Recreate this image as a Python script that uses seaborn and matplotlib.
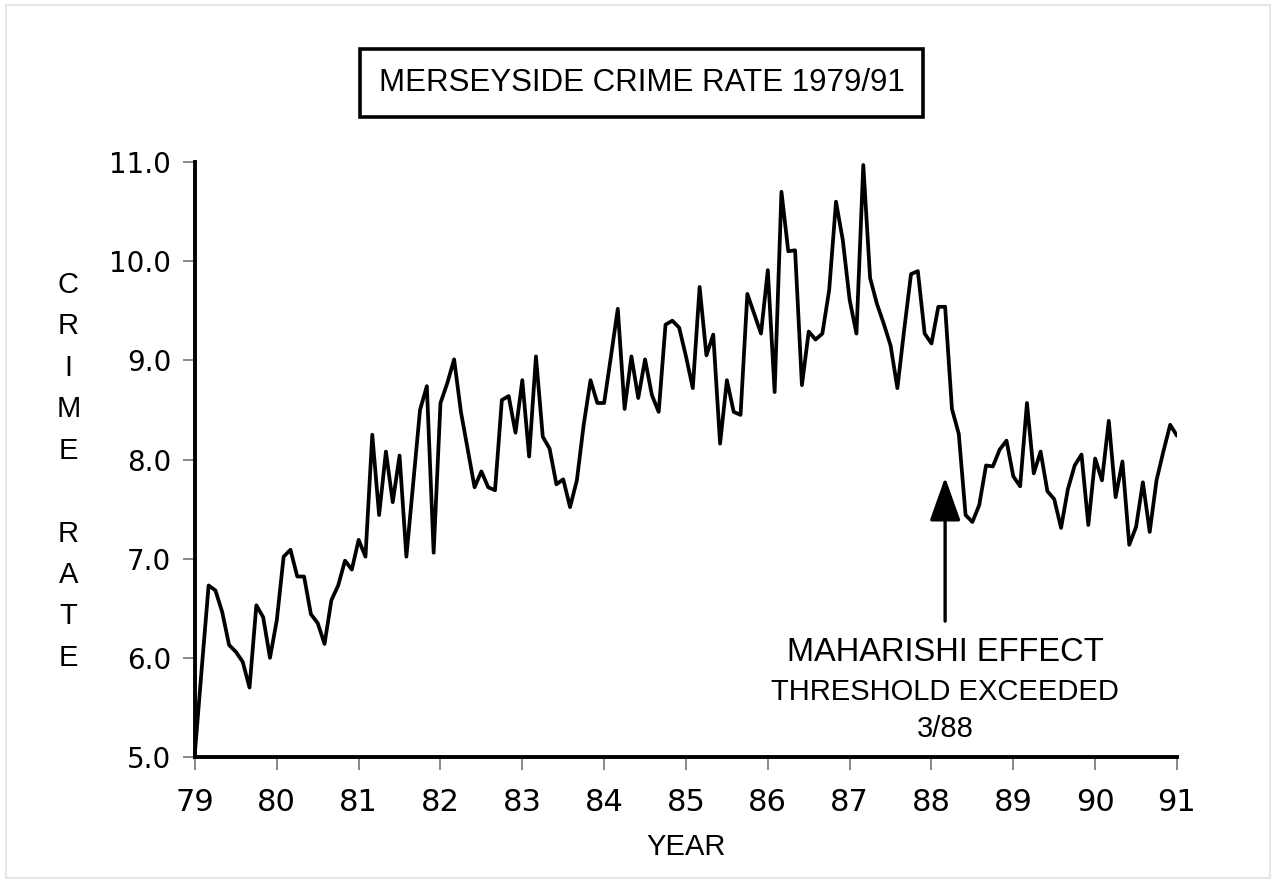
import numpy as np
import pandas as pd
import matplotlib
matplotlib.use("Agg")
import matplotlib.pyplot as plt
from matplotlib.patches import Rectangle
import seaborn as sns

# monthly crime rate, Jan 1979 .. Jan 1991
crime_rate = [
    5.05, 5.90, 6.73, 6.68, 6.46, 6.13, 6.06, 5.96, 5.70, 6.53, 6.41, 6.00,
    6.38, 7.02, 7.09, 6.82, 6.82, 6.44, 6.35, 6.14, 6.58, 6.73, 6.98, 6.89,
    7.19, 7.02, 8.25, 7.44, 8.08, 7.57, 8.04, 7.02, 7.76, 8.50, 8.74, 7.06,
    8.57, 8.77, 9.01, 8.48, 8.10, 7.72, 7.88, 7.72, 7.69, 8.60, 8.64, 8.27,
    8.80, 8.03, 9.04, 8.23, 8.11, 7.75, 7.80, 7.52, 7.79, 8.35, 8.80, 8.57,
    8.57, 9.04, 9.52, 8.51, 9.04, 8.62, 9.01, 8.65, 8.48, 9.36, 9.40, 9.33,
    9.04, 8.72, 9.74, 9.05, 9.26, 8.16, 8.80, 8.48, 8.45, 9.67, 9.47, 9.27,
    9.91, 8.68, 10.70, 10.10, 10.11, 8.75, 9.29, 9.21, 9.27, 9.71, 10.60, 10.21,
    9.61, 9.27, 10.97, 9.83, 9.57, 9.37, 9.15, 8.72, 9.31, 9.87, 9.90, 9.27,
    9.17, 9.54, 9.54, 8.51, 8.26, 7.44, 7.37, 7.54, 7.94, 7.93, 8.10, 8.19,
    7.83, 7.73, 8.57, 7.86, 8.08, 7.68, 7.60, 7.31, 7.70, 7.94, 8.05, 7.34,
    8.01, 7.79, 8.39, 7.62, 7.98, 7.14, 7.32, 7.77, 7.27, 7.79, 8.08, 8.35,
    8.24,
]
start_year = 79
year_ticks = list(range(79, 92))
rate_ticks = [5.0, 6.0, 7.0, 8.0, 9.0, 10.0, 11.0]
ylabel_letters = "C\nR\nI\nM\nE\n\nR\nA\nT\nE"
threshold_date = 88 + 2 / 12   # 3/88
annotation_lines = ["MAHARISHI EFFECT", "THRESHOLD EXCEEDED", "3/88"]

df = pd.DataFrame({
    "year": start_year + np.arange(len(crime_rate)) / 12,
    "rate": crime_rate,
})

sns.set_style("ticks")
plt.rcParams["font.family"] = ["Liberation Sans", "DejaVu Sans"]
plt.rcParams["text.color"] = "black"
plt.rcParams["axes.labelcolor"] = "black"

fig = plt.figure(figsize=(12.76, 8.83), dpi=100)
ax = fig.add_axes([0.1528, 0.1427, 0.7696, 0.6738])

sns.lineplot(data=df, x="year", y="rate", color="black", lw=2.7, ax=ax)

ax.set_xlim(79, 91)
ax.set_ylim(5, 11)
ax.set_xticks(year_ticks)
ax.set_xticklabels([str(y) for y in year_ticks], fontsize=22, family="DejaVu Sans")
ax.set_yticks(rate_ticks)
ax.set_yticklabels([f"{v:.1f}" for v in rate_ticks], fontsize=20, family="DejaVu Sans")
ax.tick_params(axis="both", direction="out", length=9, width=1.3,
               color="#808080", labelcolor="black", bottom=True, left=True)
ax.tick_params(axis="x", pad=13)
ax.tick_params(axis="y", pad=8)

sns.despine(ax=ax)
for side in ["left", "bottom"]:
    ax.spines[side].set_linewidth(2.8)
    ax.spines[side].set_color("black")

ax.set_xlabel("YEAR", fontsize=21, labelpad=12)
ax.set_ylabel(ylabel_letters, fontsize=21, rotation=0, linespacing=1.61,
              va="center", ha="center")
ax.yaxis.set_label_coords(-0.129, 0.48)

# title in a box
fig.text(0.503, 0.906, "MERSEYSIDE CRIME RATE 1979/91", fontsize=22.5,
         ha="center", va="center",
         bbox=dict(boxstyle="square,pad=0.6", fc="white", ec="black", lw=2.6))

# arrow and note
ax.annotate("", xy=(threshold_date, 7.82), xytext=(threshold_date, 6.37),
            arrowprops=dict(arrowstyle="-|>,head_length=1.35,head_width=0.48",
                            mutation_scale=20, color="black", lw=2.4,
                            shrinkA=0, shrinkB=0))
ax.text(threshold_date, 5.965, annotation_lines[0], fontsize=23.5, ha="center", va="baseline")
ax.text(threshold_date, 5.575, annotation_lines[1], fontsize=21, ha="center", va="baseline")
ax.text(threshold_date, 5.205, annotation_lines[2], fontsize=21, ha="center", va="baseline")

# faint frame around the page
fig.patches.append(Rectangle((6 / 1276, 5 / 883), 1264 / 1276, 873 / 883,
                             transform=fig.transFigure, fill=False,
                             ec="#e6e6e6", lw=1.5))

fig.savefig("out.png", dpi=100, facecolor="white")
